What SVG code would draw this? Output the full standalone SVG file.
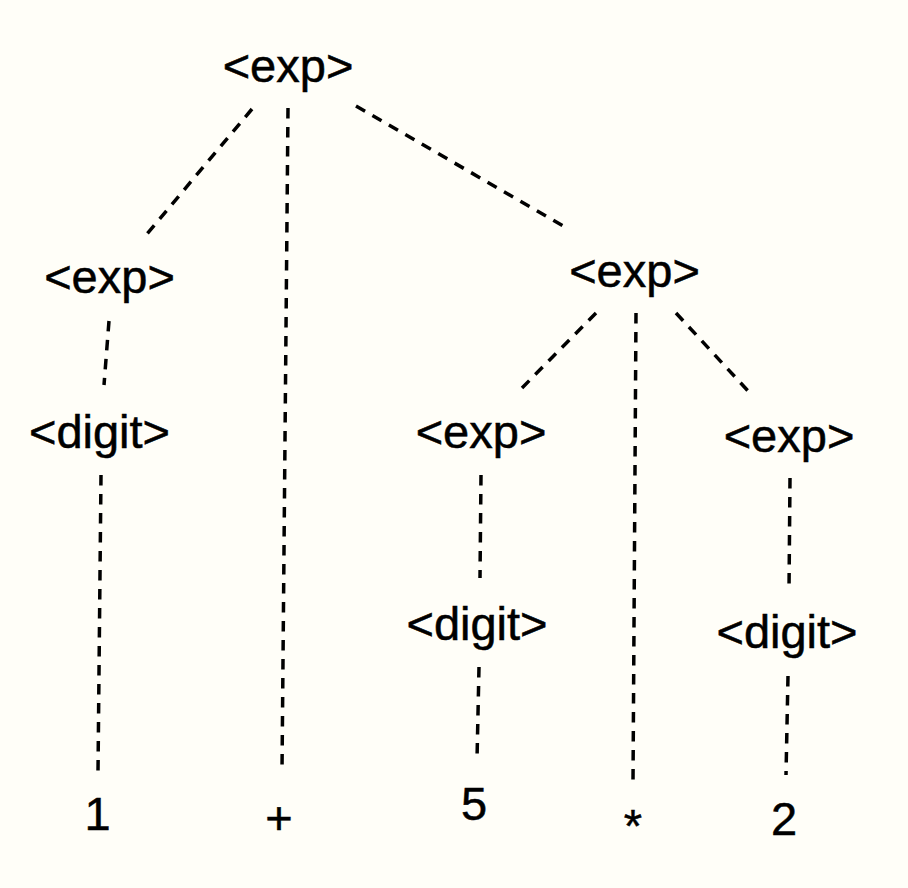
<svg xmlns="http://www.w3.org/2000/svg" width="908" height="888" viewBox="0 0 908 888">
<style>
.t{font-family:"Liberation Sans",Arial,Helvetica,sans-serif;font-size:47px;fill:#000;stroke:#000;stroke-width:0.5;text-anchor:middle}
.c line{stroke:#000;stroke-width:3.5;stroke-dasharray:10.5 8.5;fill:none}
</style>
<rect width="908" height="888" fill="#FFFEF8"/>
<g class="c" id="connectors">
<line x1="252" y1="109" x2="147" y2="234"/>
<line x1="288" y1="108" x2="282" y2="771"/>
<line x1="356" y1="106" x2="565" y2="227"/>
<line x1="109" y1="321" x2="104" y2="385"/>
<line x1="101" y1="475" x2="98" y2="772"/>
<line x1="596" y1="313" x2="522" y2="388"/>
<line x1="636" y1="313" x2="633" y2="783"/>
<line x1="676" y1="313" x2="749" y2="392"/>
<line x1="481" y1="475" x2="480" y2="578"/>
<line x1="479" y1="667" x2="477" y2="760"/>
<line x1="790" y1="478" x2="789" y2="590"/>
<line x1="788" y1="676" x2="786" y2="775"/>
</g>
<g id="n_exp_root"><text class="t" x="288" y="82">&lt;exp&gt;</text></g>
<g id="n_exp_left"><text class="t" x="109.5" y="293">&lt;exp&gt;</text></g>
<g id="n_digit_left"><text class="t" x="99.5" y="448">&lt;digit&gt;</text></g>
<g id="n_exp_mid"><text class="t" x="634.5" y="287">&lt;exp&gt;</text></g>
<g id="n_exp_5"><text class="t" x="481" y="448">&lt;exp&gt;</text></g>
<g id="n_exp_2"><text class="t" x="789" y="452">&lt;exp&gt;</text></g>
<g id="n_digit_5"><text class="t" x="477" y="640">&lt;digit&gt;</text></g>
<g id="n_digit_2"><text class="t" x="787" y="648">&lt;digit&gt;</text></g>
<g id="n_1"><text class="t" x="97.5" y="830">1</text></g>
<g id="n_plus"><text class="t" x="279" y="834">+</text></g>
<g id="n_5"><text class="t" x="474" y="819.5">5</text></g>
<g id="n_star"><text class="t" x="633" y="842">*</text></g>
<g id="n_2"><text class="t" x="784" y="835">2</text></g>
</svg>
